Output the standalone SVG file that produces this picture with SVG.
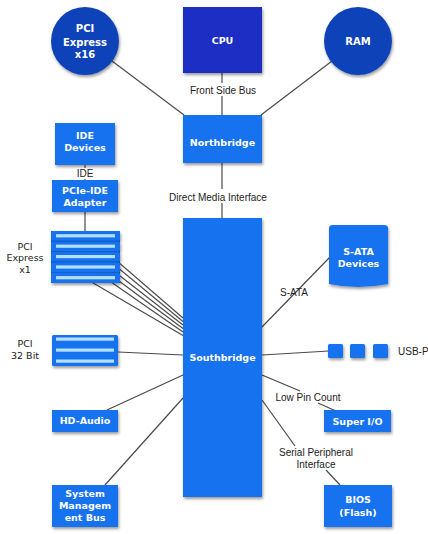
<svg xmlns="http://www.w3.org/2000/svg" width="428" height="534" viewBox="0 0 428 534">
<defs>
<filter id="sh" x="-20%" y="-20%" width="150%" height="150%">
<feDropShadow dx="1" dy="2" stdDeviation="1.5" flood-color="#000" flood-opacity="0.4"/>
</filter>
<style>
.box{fill:#1572ee;filter:url(#sh)}
.dark{fill:#1b2dc3;filter:url(#sh)}
.circ{fill:#0d43b9;filter:url(#sh)}
.bt{font-family:"DejaVu Sans",Verdana,sans-serif;font-weight:bold;font-size:9.5px;fill:#fff;text-anchor:middle}
.ct{font-size:10px}
.lb{font-family:"Liberation Sans",Arial,sans-serif;font-size:10px;fill:#222;text-anchor:middle}
.lv{font-family:"DejaVu Sans",Verdana,sans-serif;font-size:9.5px;fill:#222;text-anchor:middle}
.ln{stroke:#4a4a4a;stroke-width:1.2;fill:none}
.slot{fill:#1572ee}
.str{fill:#b2e0ff}
</style>
</defs>
<rect width="428" height="534" fill="#fff"/>
<g id="connectors">
<line class="ln" x1="222" y1="73" x2="222" y2="83"/>
<line class="ln" x1="222" y1="96" x2="222" y2="115"/>
<line class="ln" x1="222" y1="163" x2="222" y2="189"/>
<line class="ln" x1="222" y1="203" x2="222" y2="218"/>
<line class="ln" x1="112" y1="61" x2="184" y2="115"/>
<line class="ln" x1="332" y1="61" x2="261" y2="115"/>
<line class="ln" x1="85" y1="165" x2="85" y2="168"/>
<line class="ln" x1="85" y1="179" x2="85" y2="181"/>
<line class="ln" x1="85" y1="212" x2="85" y2="231"/>
<line class="ln" x1="118" y1="352" x2="183" y2="355"/>
<line class="ln" x1="107" y1="410" x2="183" y2="375"/>
<line class="ln" x1="105" y1="485" x2="183" y2="398"/>
<line class="ln" x1="262" y1="327" x2="330" y2="257"/>
<line class="ln" x1="262" y1="355" x2="329" y2="351"/>
<line class="ln" x1="262" y1="375" x2="300" y2="391"/>
<line class="ln" x1="318" y1="403" x2="336" y2="411"/>
<line class="ln" x1="262" y1="400" x2="295" y2="446"/>
<line class="ln" x1="326" y1="470" x2="340" y2="485"/>
<rect x="51" y="231" width="69" height="52" fill="#0f5fd6"/>
<line class="ln" x1="88" y1="236" x2="183" y2="318"/>
<line class="ln" x1="88" y1="243" x2="183" y2="321.5"/>
<line class="ln" x1="88" y1="251" x2="183" y2="325"/>
<line class="ln" x1="88" y1="258" x2="183" y2="328.5"/>
<line class="ln" x1="88" y1="266" x2="183" y2="332"/>
<line class="ln" x1="88" y1="280" x2="183" y2="335.5"/>
</g>
<g id="cpu"><rect class="dark" x="183" y="7" width="79" height="66"/><text class="bt" x="222.5" y="44">CPU</text></g>
<g id="pcie16"><circle class="circ" cx="85" cy="41" r="34"/><text class="bt ct" x="85" y="32">PCI</text><text class="bt ct" x="85" y="45.5">Express</text><text class="bt ct" x="85" y="58">x16</text></g>
<g id="ram"><circle class="circ" cx="358" cy="41" r="34"/><text class="bt ct" x="358" y="45">RAM</text></g>
<g id="fsb-label"><text class="lb" x="223" y="93.5">Front Side Bus</text></g>
<g id="northbridge"><rect class="box" x="183" y="115" width="79" height="48"/><text class="bt" x="222.5" y="146">Northbridge</text></g>
<g id="dmi-label"><text class="lb" x="218" y="200.5">Direct Media Interface</text></g>
<g id="southbridge"><rect class="box" x="183" y="218" width="79" height="279"/><text class="bt" x="222.5" y="361">Southbridge</text></g>
<g id="ide-devices"><rect class="box" x="55" y="123" width="60" height="42"/><text class="bt" x="85" y="138.5">IDE</text><text class="bt" x="85" y="150.5">Devices</text></g>
<g id="ide-label"><text class="lb" x="85" y="177">IDE</text></g>
<g id="pcie-ide"><rect class="box" x="52" y="180" width="66" height="32"/><text class="bt" x="85" y="193.5">PCIe-IDE</text><text class="bt" x="85" y="205.5">Adapter</text></g>
<g id="pcie-x1" filter="url(#sh)">
<rect class="slot" x="51" y="231" width="69" height="9.8" rx="1.5"/><rect class="str" x="56" y="234.2" width="59" height="3.2"/>
<rect class="slot" x="51" y="241.4" width="69" height="9.8" rx="1.5"/><rect class="str" x="56" y="244.6" width="59" height="3.2"/>
<rect class="slot" x="51" y="251.8" width="69" height="9.8" rx="1.5"/><rect class="str" x="56" y="255" width="59" height="3.2"/>
<rect class="slot" x="51" y="262.2" width="69" height="9.8" rx="1.5"/><rect class="str" x="56" y="265.4" width="59" height="3.2"/>
<rect class="slot" x="51" y="272.6" width="69" height="10.4" rx="1.5"/><rect class="str" x="56" y="276.1" width="59" height="3.2"/>
</g>
<g id="pcie-x1-label"><text class="lv" x="25" y="249.5">PCI</text><text class="lv" x="25" y="261">Express</text><text class="lv" x="25" y="272.5">x1</text></g>
<g id="pci32" filter="url(#sh)">
<rect class="slot" x="52" y="335" width="66" height="31" rx="1.5"/>
<rect class="str" x="56" y="337.5" width="58" height="3.2"/>
<rect class="str" x="56" y="348.5" width="58" height="3.2"/>
<rect class="str" x="56" y="359.5" width="58" height="3.2"/>
</g>
<g id="pci32-label"><text class="lv" x="25" y="346.5">PCI</text><text class="lv" x="25" y="358.5">32 Bit</text></g>
<g id="hd-audio"><rect class="box" x="52" y="410" width="66" height="22"/><text class="bt" x="85" y="424">HD-Audio</text></g>
<g id="smbus"><rect class="box" x="52" y="485" width="66" height="42"/><text class="bt" x="85" y="496.5">System</text><text class="bt" x="85" y="508.5">Managem</text><text class="bt" x="85" y="521">ent Bus</text></g>
<g id="sata"><path class="box" d="M329,228 Q329,225 333,225 L384,225 Q388,225 388,228 L388,284 Q358,290 329,284 Z"/><text class="bt" x="358.5" y="254.5">S-ATA</text><text class="bt" x="358.5" y="266.5">Devices</text></g>
<g id="sata-label"><text class="lb" x="294" y="296">S-ATA</text></g>
<g id="usb" filter="url(#sh)"><rect class="slot" x="328" y="344" width="15" height="14" rx="1.5"/><rect class="slot" x="350" y="344" width="15" height="14" rx="1.5"/><rect class="slot" x="373" y="344" width="15" height="14" rx="1.5"/></g>
<g id="usb-label"><text class="lb" x="398" y="355" style="text-anchor:start">USB-P</text></g>
<g id="lpc-label"><text class="lb" x="308" y="400.5">Low Pin Count</text></g>
<g id="superio"><rect class="box" x="324" y="410" width="67" height="22"/><text class="bt" x="357.5" y="424.5">Super I/O</text></g>
<g id="spi-label"><text class="lb" x="316" y="456">Serial Peripheral</text><text class="lb" x="316" y="467.5">Interface</text></g>
<g id="bios"><rect class="box" x="324" y="485" width="68" height="42"/><text class="bt" x="358" y="502.5">BIOS</text><text class="bt" x="358" y="515.5">(Flash)</text></g>
</svg>
